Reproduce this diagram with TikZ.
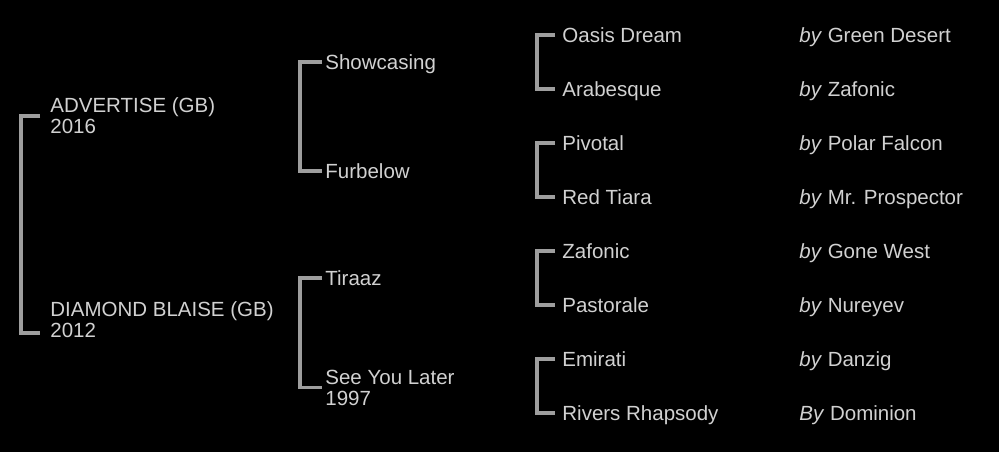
\documentclass[tikz,border=0pt]{standalone}
\usepackage{fontspec}
\setmainfont{Liberation Sans}
\usepackage{tikz}
\usetikzlibrary{calc,positioning}
\definecolor{txt}{gray}{0.82}
\definecolor{pedgray}{gray}{0.62}

\begin{document}
\begin{tikzpicture}[x=0.5pt, y=-0.5pt,
  horse/.style={inner sep=0pt, anchor=west, text=txt, font=\fontsize{10.25}{10.5}\selectfont},
  oneline/.style={horse, text height=7.3pt, text depth=0pt},
  pedline/.style={draw=pedgray, line width=1.75pt}]
\path[use as bounding box, fill=black] (0,0) rectangle (999,452);
%dams and sires of the third generation
\foreach \i/\dam/\sire in {0/Oasis Dream/{\textit{by} Green Desert}, 1/Arabesque/{\textit{by} Zafonic},
  2/Pivotal/{\textit{by} Polar Falcon}, 3/Red Tiara/{\textit{by} Mr. Prospector},
  4/Zafonic/{\textit{by} Gone West}, 5/Pastorale/{\textit{by} Nureyev},
  6/Emirati/{\textit{by} Danzig}, 7/Rivers Rhapsody/{\textit{By} Dominion}}{
  \node[oneline] (d\i) at (562, 35+54*\i) {\dam};
  \node[oneline] (s\i) at (799, 35+54*\i) {\sire};
}
%second generation
\node[oneline] (showcasing) at (325, 62) {Showcasing};
\node[oneline] (furbelow) at (325, 171) {Furbelow};
\node[oneline] (tiraaz) at (325, 278) {Tiraaz};
\node[horse, align=left] (seeyou) at (325, 387.5) {See You Later\\1997};
%first generation
\node[horse, align=left] (advertise) at (50, 116) {ADVERTISE (GB)\\2016};
\node[horse, align=left] (diamond) at (50, 320) {DIAMOND BLAISE (GB)\\2012};
%brackets
\foreach \i [evaluate=\i as \j using int(\i+1)] in {0,2,4,6}
  \draw[pedline] ([xshift=-3.5pt]d\i.west) -- ++(-18,0) |- ([xshift=-3.5pt]d\j.west);
\draw[pedline] ([xshift=-1.5pt]showcasing.west) -- ++(-22,0) |- ([xshift=-1.5pt]furbelow.west);
\draw[pedline] ([xshift=-1.5pt]tiraaz.west) -- ++(-22,0) |- ([xshift=-1.5pt]seeyou.west);
\draw[pedline] ([xshift=-5pt]advertise.west) -- ++(-19,0) |- ([xshift=-5pt, yshift=-6.5pt]diamond.west);
\end{tikzpicture}
\end{document}
